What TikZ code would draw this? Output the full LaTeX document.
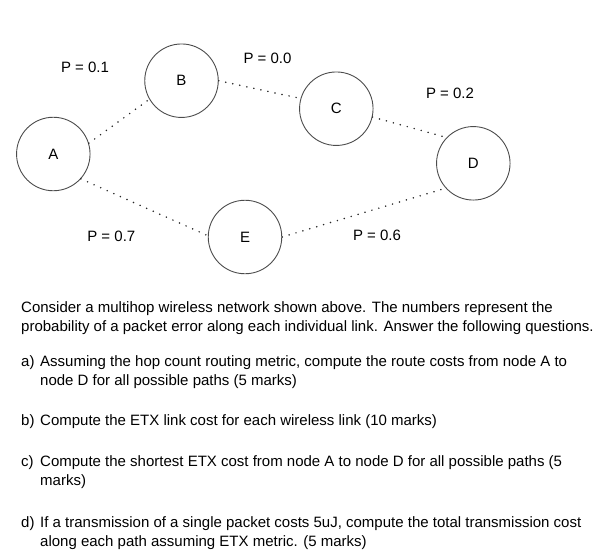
\documentclass[tikz,border=0pt]{standalone}
\usepackage{fontspec}
\setmainfont{Liberation Sans}
\usetikzlibrary{positioning}

\begin{document}
\begin{tikzpicture}[x=1pt, y=-1pt,
      font=\fontsize{15}{18.5}\selectfont,
      station/.style={circle, draw=black!70, line width=0.9pt, minimum size=73.5pt, inner sep=0pt},
      link/.style={black!85, line width=1.7pt, line cap=round, dash pattern=on 0pt off 7.2pt},
      prob/.style={inner sep=0pt},
      para/.style={anchor=north west, align=left, inner sep=0pt},
    ]
    \useasboundingbox (0,0) rectangle (602,555);
    % the five stations
    \node[station] (A) at (53.3,154) {A};
    \node[station] (B) at (181.5,80.7) {B};
    \node[station] (C) at (336.3,108.7) {C};
    \node[station] (D) at (473.3,163.3) {D};
    \node[station] (E) at (245,237) {E};
    % error probabilities
    \node[prob] (pab) at (85,67) {P = 0.1};
    \node[prob] (pbc) at (267.5,58.3) {P = 0.0};
    \node[prob] (pcd) at (450,93.7) {P = 0.2};
    \node[prob] (pae) at (111.3,236) {P = 0.7};
    \node[prob] (ped) at (377,235.8) {P = 0.6};
    % wireless links
    \draw[link] (A.17) -- (B.210);
    \draw[link] (B.0) -- (C.164);
    \draw[link] (C.-13) -- (D.136);
    \draw[link] (A.-42) -- (E.178);
    \draw[link] (E.0) -- (D.222);
    % the question text
    \node[para] (intro) at (21,299.5) {\strut Consider a multihop wireless network shown above. The numbers represent the\\
      probability of a packet error along each individual link. Answer the following questions.};
    \node[para] (la) at (21,353.5) {\strut a)};
    \node[para] (qa) at (40,353.5) {\strut Assuming the hop count routing metric, compute the route costs from node A to\\
      node D for all possible paths (5 marks)};
    \node[para] (lb) at (21,412.5) {\strut b)};
    \node[para] (qb) at (40,412.5) {\strut Compute the ETX link cost for each wireless link (10 marks)};
    \node[para] (lc) at (21,453.5) {\strut c)};
    \node[para] (qc) at (40,453.5) {\strut Compute the shortest ETX cost from node A to node D for all possible paths (5\\
      marks)};
    \node[para] (ld) at (21,514.5) {\strut d)};
    \node[para] (qd) at (40,514.5) {\strut If a transmission of a single packet costs 5uJ, compute the total transmission cost\\
      along each path assuming ETX metric. (5 marks)};
  \end{tikzpicture}
\end{document}
